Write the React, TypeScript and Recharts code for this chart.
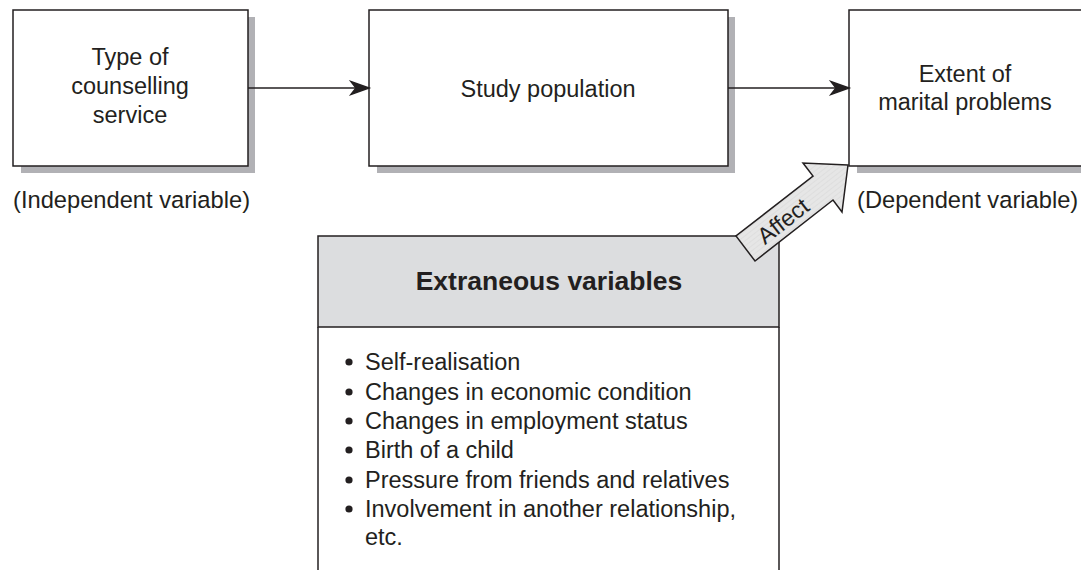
import React from "react"
import { ScatterChart, Scatter, XAxis, YAxis, ReferenceArea, ReferenceLine } from "recharts"

// ── diagram data (units = pixels of the 1081×573 figure) ─────────────────────

const W = 1081
const H = 573

const BOXES = [
  { id: "iv",  x1: 13,  x2: 248,  y1: 10, y2: 166 },
  { id: "pop", x1: 369, x2: 728,  y1: 10, y2: 166 },
  { id: "dv",  x1: 849, x2: 1100, y1: 10, y2: 166 },
]

const BOX_LABELS = [
  { x: 130, y: 65,  text: "Type of" },
  { x: 130, y: 94,  text: "counselling" },
  { x: 130, y: 123, text: "service" },
  { x: 548, y: 97,  text: "Study population" },
  { x: 965, y: 82,  text: "Extent of" },
  { x: 965, y: 110, text: "marital problems" },
]

const CAPTIONS = [
  { x: 13,  y: 208, text: "(Independent variable)" },
  { x: 857, y: 208, text: "(Dependent variable)" },
]

const SHAFTS = [
  { from: { x: 248, y: 88 }, to: { x: 356, y: 88 } },
  { from: { x: 728, y: 88 }, to: { x: 836, y: 88 } },
]

const HEAD_1 = [
  { x: 369, y: 88 }, { x: 351, y: 81.5 }, { x: 356, y: 88 }, { x: 351, y: 94.5 },
]
const HEAD_2 = [
  { x: 849, y: 88 }, { x: 831, y: 81.5 }, { x: 836, y: 88 }, { x: 831, y: 94.5 },
]

const EXTRA_HEADER = { x1: 318, x2: 779, y1: 236, y2: 327 }
const EXTRA_SIDES = [
  [{ x: 318, y: 327 }, { x: 318, y: 570 }],
  [{ x: 779, y: 327 }, { x: 779, y: 570 }],
]

const TITLE = [{ x: 549, y: 290, text: "Extraneous variables" }]

const BULLETS = [
  { x: 365, y: 370, text: "Self-realisation", dot: true },
  { x: 365, y: 400, text: "Changes in economic condition", dot: true },
  { x: 365, y: 429, text: "Changes in employment status", dot: true },
  { x: 365, y: 458, text: "Birth of a child", dot: true },
  { x: 365, y: 488, text: "Pressure from friends and relatives", dot: true },
  { x: 365, y: 517, text: "Involvement in another relationship,", dot: true },
  { x: 365, y: 545, text: "etc.", dot: false },
]

const AFFECT_ARROW = [
  { x: 848, y: 165 }, { x: 803, y: 163 }, { x: 813, y: 176 }, { x: 736, y: 236 },
  { x: 755, y: 261 }, { x: 833, y: 200 }, { x: 842, y: 212 },
]
const AFFECT_LABEL = [{ x: 783, y: 221, text: "Affect" }]

// ── styles ───────────────────────────────────────────────────────────────────

const INK    = "#231f20"
const SHADOW = "#b1b1b5"
const FONT   = "'Liberation Sans', Arial, sans-serif"

const noDot = () => <g />

const polygonLine = (fill: string) => (p: any) => (
  <polygon
    points={(p.points || []).map((pt: any) => `${pt.x},${pt.y}`).join(" ")}
    fill={fill}
    stroke={INK}
    strokeWidth={1.5}
    strokeLinejoin="miter"
  />
)

const centerText = (size: number, weight = "normal") => (p: any) => (
  <text x={p.cx} y={p.cy} textAnchor="middle" fontFamily={FONT} fontSize={size}
        fontWeight={weight} fill={INK}>
    {p.payload.text}
  </text>
)

const startText = (p: any) => (
  <text x={p.cx} y={p.cy} textAnchor="start" fontFamily={FONT} fontSize={23.7} fill={INK}>
    {p.payload.text}
  </text>
)

const bulletText = (p: any) => (
  <g>
    {p.payload.dot && <circle cx={p.cx - 16} cy={p.cy - 8} r={3.6} fill={INK} />}
    <text x={p.cx} y={p.cy} textAnchor="start" fontFamily={FONT} fontSize={23.5} fill={INK}>
      {p.payload.text}
    </text>
  </g>
)

const affectText = (p: any) => (
  <text x={p.cx} y={p.cy} textAnchor="middle" dominantBaseline="central"
        fontFamily={FONT} fontSize={23} fill={INK}
        transform={`rotate(-38 ${p.cx} ${p.cy})`}>
    {p.payload.text}
  </text>
)

export default function App() {
  return (
    <div style={{ position: "absolute", left: 0, top: 0, width: W, height: H, background: "#fff" }}>
      <svg width={0} height={0} style={{ position: "absolute" }}>
        <defs>
          <pattern id="hatch" width="4" height="4" patternUnits="userSpaceOnUse" patternTransform="rotate(52)">
            <rect width="4" height="4" fill="#e6e6e6" />
            <line x1="0" y1="0" x2="0" y2="4" stroke="#d6d6d6" strokeWidth="1" />
          </pattern>
        </defs>
      </svg>
      <ScatterChart width={W} height={H} margin={{ top: 0, right: 0, bottom: 0, left: 0 }}>
        <XAxis type="number" dataKey="x" domain={[0, W]} hide allowDataOverflow />
        <YAxis type="number" dataKey="y" domain={[0, H]} reversed hide allowDataOverflow />

        {/* drop shadows */}
        {BOXES.map(b => (
          <ReferenceArea key={`s-${b.id}`} x1={b.x1 + 8} x2={b.x2 + 7} y1={b.y1 + 7} y2={b.y2 + 7}
                         fill={SHADOW} fillOpacity={1} stroke="none" ifOverflow="visible" />
        ))}
        {/* boxes */}
        {BOXES.map(b => (
          <ReferenceArea key={`b-${b.id}`} x1={b.x1} x2={b.x2} y1={b.y1} y2={b.y2}
                         fill="#fff" fillOpacity={1} stroke={INK} strokeWidth={1.5} ifOverflow="visible" />
        ))}

        {/* connectors */}
        {SHAFTS.map((s, i) => (
          <ReferenceLine key={`sh-${i}`} segment={[s.from, s.to]} stroke={INK} strokeWidth={1.5}
                         ifOverflow="visible" />
        ))}
        <Scatter data={HEAD_1} shape={noDot} line={polygonLine(INK)} lineType="joint" isAnimationActive={false} />
        <Scatter data={HEAD_2} shape={noDot} line={polygonLine(INK)} lineType="joint" isAnimationActive={false} />

        {/* extraneous variables panel */}
        <ReferenceArea x1={EXTRA_HEADER.x1} x2={EXTRA_HEADER.x2} y1={EXTRA_HEADER.y1} y2={EXTRA_HEADER.y2}
                       fill="#dcdddf" fillOpacity={1} stroke={INK} strokeWidth={1.5} ifOverflow="visible" />
        {EXTRA_SIDES.map((seg, i) => (
          <ReferenceLine key={`side-${i}`} segment={seg} stroke={INK} strokeWidth={1.5} ifOverflow="visible" />
        ))}

        {/* affect arrow */}
        <Scatter data={AFFECT_ARROW} shape={noDot} line={polygonLine("url(#hatch)")} lineType="joint"
                 isAnimationActive={false} />
        <Scatter data={AFFECT_LABEL} shape={affectText} isAnimationActive={false} />

        {/* texts */}
        <Scatter data={BOX_LABELS} shape={centerText(23.5)} isAnimationActive={false} />
        <Scatter data={CAPTIONS} shape={startText} isAnimationActive={false} />
        <Scatter data={TITLE} shape={centerText(26.5, "bold")} isAnimationActive={false} />
        <Scatter data={BULLETS} shape={bulletText} isAnimationActive={false} />
      </ScatterChart>
    </div>
  )
}
